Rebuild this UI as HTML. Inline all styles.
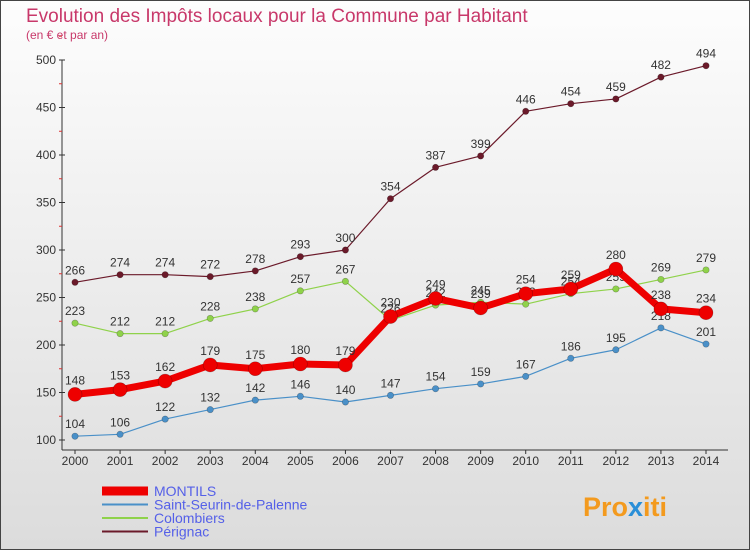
<!DOCTYPE html>
<html><head><meta charset="utf-8"><style>
body{margin:0;width:750px;height:550px;overflow:hidden;font-family:"Liberation Sans",sans-serif;}
</style></head><body>
<svg width="750" height="550" xmlns="http://www.w3.org/2000/svg">
<defs><linearGradient id="bg" x1="0" y1="0" x2="0" y2="1"><stop offset="0" stop-color="#fdfdfd"/><stop offset="1" stop-color="#dcdcdc"/></linearGradient></defs>
<rect x="0.5" y="0.5" width="749" height="549" fill="url(#bg)" stroke="#444"/>
<text x="26" y="22" font-size="19" fill="#c8386a">Evolution des Impôts locaux pour la Commune par Habitant</text>
<text x="26" y="39" font-size="12" fill="#c8386a">(en € et par an)</text>
<g id="axes"></g>
<g id="series"></g>
<g id="legend"></g>
<text x="583" y="516" font-size="27" font-weight="bold" fill="#f39a1e">Pro<tspan fill="#2a8fd8">x</tspan>iti</text>
</svg>
<script>
const years=[2000,2001,2002,2003,2004,2005,2006,2007,2008,2009,2010,2011,2012,2013,2014];
const yTicks=[100,150,200,250,300,350,400,450,500];
const perignac=[266,274,274,272,278,293,300,354,387,399,446,454,459,482,494];
const colombiers=[223,212,212,228,238,257,267,226,242,245,243,254,259,269,279];
const montils=[148,153,162,179,175,180,179,230,249,239,254,259,280,238,234];
const seurin=[104,106,122,132,142,146,140,147,154,159,167,186,195,218,201];
const NS="http://www.w3.org/2000/svg";
function X(i){return 75+i*(706-75)/(years.length-1);}
function Y(v){return 440-(v-100)*0.95;}
function mk(t,a,p){const e=document.createElementNS(NS,t);for(const k in a)e.setAttribute(k,a[k]);p.appendChild(e);return e;}
const ax=document.getElementById('axes');
const yl=mk('line',{x1:62,y1:Y(500),x2:62,y2:450,stroke:'#333'},ax);


const xl=mk('line',{x1:62,y1:450,x2:728,y2:450,stroke:'#333'},ax);


yTicks.forEach(v=>{
 mk('line',{x1:59,y1:Y(v),x2:65,y2:Y(v),stroke:'#333'},ax);
 mk('line',{x1:59,y1:Y(v+25),x2:62,y2:Y(v+25),stroke:'#d33'},ax);
 const t=mk('text',{x:56,y:Y(v)+4,'font-size':12,'text-anchor':'end',fill:'#333'},ax);t.textContent=v;
 
 
});
years.forEach((y,i)=>{
 mk('line',{x1:X(i),y1:450,x2:X(i),y2:454,stroke:'#333'},ax);
 const t=mk('text',{x:X(i),y:465,'font-size':12,'text-anchor':'middle',fill:'#333'},ax);t.textContent=y;
 
 
});
const sg=document.getElementById('series');
function series(vals,color,w,r,name,labOff){
 const g=mk('g',{},sg);
 
 
 mk('polyline',{points:vals.map((v,i)=>X(i)+','+Y(v)).join(' '),fill:'none',stroke:color,'stroke-width':w,'stroke-linejoin':'round'},g);
 vals.forEach((v,i)=>{
  const c=mk('circle',{cx:X(i),cy:Y(v),r:r,fill:color,stroke:'rgba(0,0,0,0.3)','stroke-width':0.6},g);
  
  
  const t=mk('text',{x:X(i),y:Y(v)-labOff,'font-size':12,'text-anchor':'middle',fill:'#333'},g);t.textContent=v;
  
  
 });
}
series(seurin,'#4a90c8',1.2,3.2,'saint-seurin-series',8);
series(colombiers,'#8fd24a',1.2,3.2,'colombiers-series',8);
series(perignac,'#6b1a2a',1.2,3.2,'perignac-series',8);
series(montils,'#ee0000',7,7,'montils-series',10);
const lg=document.getElementById('legend');
const items=[['MONTILS','#ee0000',9],['Saint-Seurin-de-Palenne','#4a90c8',2],['Colombiers','#8fd24a',2],['Pérignac','#6b1a2a',2]];
items.forEach((it,k)=>{
 const yy=491+k*13.5;
 const g=mk('g',{},lg);
 
 
 mk('line',{x1:102,y1:yy,x2:148,y2:yy,stroke:it[1],'stroke-width':it[2]},g);
 const t=mk('text',{x:154,y:yy+5,'font-size':14,fill:'#5560e8'},g);t.textContent=it[0];
});
</script>
</body></html>
